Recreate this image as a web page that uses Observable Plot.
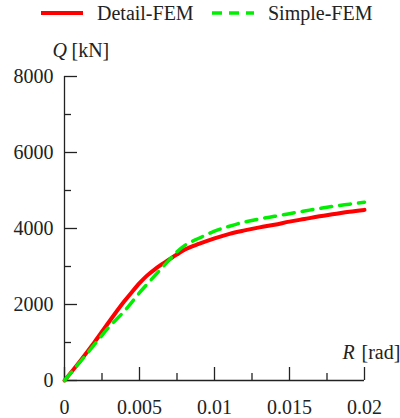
<!DOCTYPE html>
<html>
<head>
<meta charset="utf-8">
<script src="https://cdn.jsdelivr.net/npm/d3@7"></script>
<script src="https://cdn.jsdelivr.net/npm/@observablehq/plot@0.6"></script>
<style>
  html, body { margin: 0; padding: 0; background: #fff; }
  #wrap { width: 400px; font-family: "Liberation Serif", "Tinos", "Times New Roman", "DejaVu Serif", serif; }
  #legend { position: relative; height: 30px; width: 400px; }
  .item { position: absolute; top: 0; height: 26px; display: flex; align-items: center; font-size: 20px; color: #222; }
  .item svg { margin-right: 14px; }
  #chart svg, #chart svg text { font-family: "Liberation Serif", "Tinos", "Times New Roman", "DejaVu Serif", serif !important; }
</style>
</head>
<body>
<div id="wrap">
  <div id="legend"></div>
  <div id="chart"></div>
</div>
<script>
// Data
const seriesNames = ["Detail-FEM", "Simple-FEM"];
const seriesColors = ["#ff0000", "#00ee00"];
const rDetail = [0, 0.001, 0.002, 0.003, 0.004, 0.0045, 0.005, 0.0055, 0.006, 0.0065, 0.007, 0.0075, 0.008, 0.009, 0.01, 0.011, 0.012, 0.013, 0.014, 0.015, 0.016, 0.017, 0.018, 0.019, 0.02];
const qDetail = [0, 490, 1010, 1560, 2090, 2330, 2560, 2760, 2920, 3060, 3190, 3320, 3440, 3600, 3740, 3860, 3950, 4030, 4100, 4180, 4250, 4320, 4380, 4440, 4490];
const rSimple = [0, 0.001, 0.002, 0.003, 0.004, 0.005, 0.006, 0.007, 0.0075, 0.008, 0.009, 0.01, 0.011, 0.012, 0.013, 0.014, 0.015, 0.016, 0.017, 0.018, 0.019, 0.02];
const qSimple = [0, 470, 950, 1420, 1830, 2310, 2750, 3180, 3390, 3550, 3750, 3930, 4060, 4170, 4250, 4320, 4390, 4460, 4530, 4590, 4640, 4690];
const xMajor = [0, 0.005, 0.01, 0.015, 0.02];
const xMinor = [0.0025, 0.0075, 0.0125, 0.0175];
const yMajor = [0, 2000, 4000, 6000, 8000];
const yMinor = [1000, 3000, 5000, 7000];

const detail = rDetail.map((r, i) => ({r, q: qDetail[i], s: seriesNames[0]}));
const simple = rSimple.map((r, i) => ({r, q: qSimple[i], s: seriesNames[1]}));

// Legend (HTML)
const legend = document.getElementById("legend");
function addItem(left, name, color, dashed) {
  const div = document.createElement("div");
  div.className = "item";
  div.style.left = left + "px";
  div.innerHTML = `<svg width="42" height="8"><line x1="0" y1="4" x2="42" y2="4" stroke="${color}" stroke-width="${dashed ? 3.5 : 4}" ${dashed ? 'stroke-dasharray="10,7"' : ''}/></svg><span>${name}</span>`;
  legend.appendChild(div);
}
addItem(41, seriesNames[0], seriesColors[0], false);
addItem(212, seriesNames[1], seriesColors[1], true);

const fmtX = d => d === 0 ? "0" : String(d);
const FONT = '"Liberation Serif", "Tinos", "Times New Roman", "DejaVu Serif", serif';

const chart = Plot.plot({
  width: 400,
  height: 388,
  marginLeft: 64,
  marginRight: 36,
  marginTop: 46,
  marginBottom: 38,
  style: {fontFamily: FONT, fontSize: "20px", color: "#222", background: "#fff"},
  x: {domain: [0, 0.02]},
  y: {domain: [0, 8000]},
  marks: [
    Plot.ruleX([0], {stroke: "#222", strokeWidth: 1.3}),
    Plot.ruleY([0], {stroke: "#222", strokeWidth: 1.3}),
    Plot.axisX({ticks: xMinor, tickSize: -7, tickFormat: () => "", label: null, strokeWidth: 1.3}),
    Plot.axisX({ticks: xMajor, tickSize: -13, tickFormat: () => "", label: null, strokeWidth: 1.3}),
    Plot.axisX({ticks: xMajor, tickSize: 0, tickPadding: 19, tickFormat: fmtX, label: null}),
    Plot.axisY({ticks: yMinor, tickSize: -7, tickFormat: () => "", label: null, strokeWidth: 1.3}),
    Plot.axisY({ticks: yMajor, tickSize: -13, tickFormat: () => "", label: null, strokeWidth: 1.3}),
    Plot.axisY({ticks: yMajor, tickSize: 0, tickPadding: 11, tickFormat: d => String(d), label: null}),
    Plot.line(detail, {x: "r", y: "q", stroke: seriesColors[0], strokeWidth: 4, curve: "monotone-x"}),
    Plot.line(simple, {x: "r", y: "q", stroke: seriesColors[1], strokeWidth: 3.5, strokeDasharray: "11,8", curve: "monotone-x"}),
    Plot.text(["Q"], {text: d => d, frameAnchor: "top-left", dx: -12, dy: -26, fontStyle: "italic", textAnchor: "start", lineAnchor: "middle", fill: "#222"}),
    Plot.text(["[kN]"], {text: d => d, frameAnchor: "top-left", dx: 7, dy: -26, textAnchor: "start", lineAnchor: "middle", fill: "#222"}),
    Plot.text(["R"], {text: d => d, frameAnchor: "bottom-right", dx: -22, dy: -28, fontStyle: "italic", textAnchor: "start", lineAnchor: "middle", fill: "#222"}),
    Plot.text(["[rad]"], {text: d => d, frameAnchor: "bottom-right", dx: -3, dy: -28, textAnchor: "start", lineAnchor: "middle", fill: "#222"})
  ]
});
document.getElementById("chart").appendChild(chart);
</script>
</body>
</html>
